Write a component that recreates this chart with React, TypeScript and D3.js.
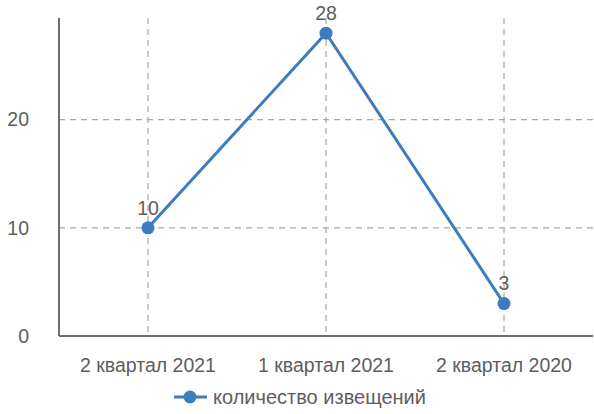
import React from "react";
import * as d3 from "d3";

const categories = ["2 квартал 2021", "1 квартал 2021", "2 квартал 2020"];
const values = [10, 28, 3];
const yTicks = [0, 10, 20];
const seriesName = "количество извещений";

const W = 594, H = 414;
const margin = { left: 59, right: 1, top: 18, bottom: 78 };
const FONT = "'Liberation Sans', Arial, sans-serif";
const BLUE = "#3d7cc0";
const TEXT = "#5e5e5e";

export default function App() {
  const x = d3.scaleBand<string>().domain(categories).range([margin.left, W - margin.right]);
  const y = d3.scaleLinear().domain([0, 29.4]).range([H - margin.bottom, margin.top]);
  const cx = (c: string) => (x(c) as number) + x.bandwidth() / 2;
  const line = d3.line<number>().x((_, i) => cx(categories[i])).y((d) => y(d));
  const y0 = y(0);
  return (
    <svg width={W} height={H} style={{ position: "absolute", left: 0, top: 0, background: "#fff" }} fontFamily={FONT}>
      {yTicks.filter((t) => t > 0).map((t) => (
        <line key={"h" + t} x1={margin.left} x2={W - margin.right} y1={y(t)} y2={y(t)} stroke="#a6a6a6" strokeWidth={1.2} strokeDasharray="6,5" />
      ))}
      {categories.map((c) => (
        <line key={"v" + c} x1={cx(c)} x2={cx(c)} y1={margin.top} y2={y0} stroke="#a6a6a6" strokeWidth={1.2} strokeDasharray="6,5" />
      ))}
      <line x1={margin.left} x2={margin.left} y1={margin.top} y2={y0} stroke="#6e6e6e" strokeWidth={2} />
      <line x1={margin.left} x2={W - margin.right} y1={y0} y2={y0} stroke="#6e6e6e" strokeWidth={2} />
      {yTicks.map((t) => (
        <text key={"yt" + t} x={29} y={y(t)} dy="0.35em" textAnchor="end" fontSize={19.5} fill={TEXT}>{t}</text>
      ))}
      {categories.map((c) => (
        <text key={"xt" + c} x={cx(c)} y={365} dy="0.35em" textAnchor="middle" fontSize={19.5} fill={TEXT}>{c}</text>
      ))}
      <path d={line(values) || ""} fill="none" stroke={BLUE} strokeWidth={3} />
      {values.map((v, i) => (
        <g key={"p" + i}>
          <circle cx={cx(categories[i])} cy={y(v)} r={6.5} fill={BLUE} />
          <text x={cx(categories[i])} y={y(v) - 20} dy="0.35em" textAnchor="middle" fontSize={19.5} fill={TEXT}>{v}</text>
        </g>
      ))}
      <g>
        <line x1={174} x2={207} y1={397} y2={397} stroke={BLUE} strokeWidth={3} />
        <circle cx={190} cy={397} r={6.5} fill={BLUE} />
        <text x={213} y={397} dy="0.35em" fontSize={20} fill={TEXT}>{seriesName}</text>
      </g>
    </svg>
  );
}
